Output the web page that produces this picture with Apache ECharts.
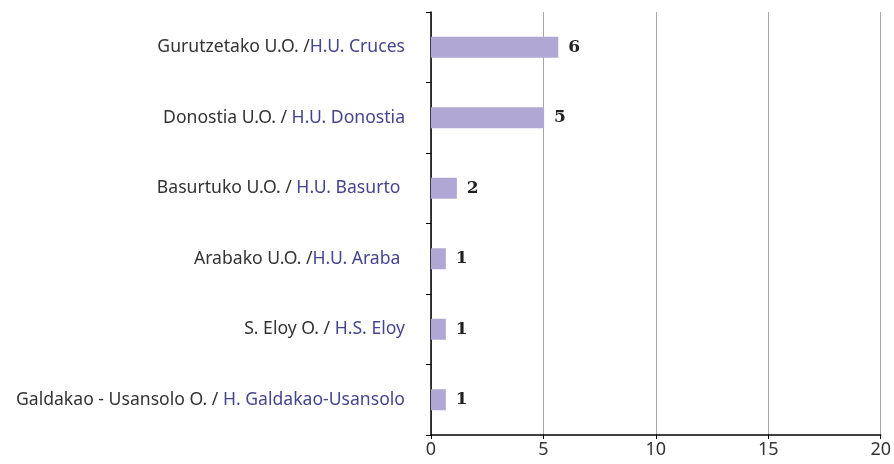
<!DOCTYPE html>
<html>
<head>
<meta charset="utf-8">
<script src="https://cdn.jsdelivr.net/npm/echarts@6/dist/echarts.min.js"></script>
<style>
  html, body { margin: 0; padding: 0; background: #fff; }
  #chart { width: 894px; height: 464px; }
</style>
</head>
<body>
<div id="chart"></div>
<script>
// centro (negro) + hospital (azul)
const centerNames = [
  "Gurutzetako U.O. /",
  "Donostia U.O. / ",
  "Basurtuko U.O. / ",
  "Arabako U.O. /",
  "S. Eloy O. / ",
  "Galdakao - Usansolo O. / "
];
const hospitalNames = [
  "H.U. Cruces",
  "H.U. Donostia",
  "H.U. Basurto ",
  "H.U. Araba ",
  "H.S. Eloy",
  "H. Galdakao-Usansolo"
];
// longitud de las barras tal como aparecen
const barValues = [5.66, 5.03, 1.15, 0.66, 0.66, 0.66];
// etiquetas que muestra el grafico
const valueLabels = ["6", "5", "2", "1", "1", "1"];
const xTicks = [0, 5, 10, 15, 20];

const chart = echarts.init(document.getElementById("chart"));

const option = {
  animation: false,
  grid: { left: 431, right: 13, top: 12, bottom: 29 },
  xAxis: {
    type: "value",
    min: xTicks[0],
    max: xTicks[xTicks.length - 1],
    interval: 5,
    axisLine: { show: true, lineStyle: { color: "#000", width: 1.5 } },
    axisTick: { show: true, length: 4, lineStyle: { color: "#000" } },
    axisLabel: { color: "#333", fontSize: 18, fontFamily: "Noto Sans", margin: 6 },
    splitLine: { show: true, lineStyle: { color: "#a6a6a6", width: 1 } }
  },
  yAxis: {
    type: "category",
    inverse: true,
    data: centerNames.map((c, i) => c + "|" + hospitalNames[i]),
    axisLine: { show: true, lineStyle: { color: "#000", width: 1.5 } },
    axisTick: { show: true, length: 5, lineStyle: { color: "#000" } },
    axisLabel: {
      margin: 26,
      formatter: (v) => {
        const p = v.split("|");
        return "{a|" + p[0] + "}{b|" + p[1] + "}";
      },
      rich: {
        a: { color: "#333", fontSize: 17.6, fontFamily: "Noto Sans" },
        b: { color: "#45458f", fontSize: 17.6, fontFamily: "Noto Sans" }
      }
    }
  },
  series: [{
    type: "bar",
    data: barValues,
    barWidth: 21,
    itemStyle: { color: "#b0a7d4" },
    label: {
      show: true,
      position: "right",
      distance: 10,
      formatter: (p) => valueLabels[p.dataIndex],
      color: "#222",
      fontSize: 17,
      fontWeight: "bold",
      fontFamily: "DejaVu Serif"
    }
  }]
};

chart.setOption(option);
</script>
</body>
</html>
